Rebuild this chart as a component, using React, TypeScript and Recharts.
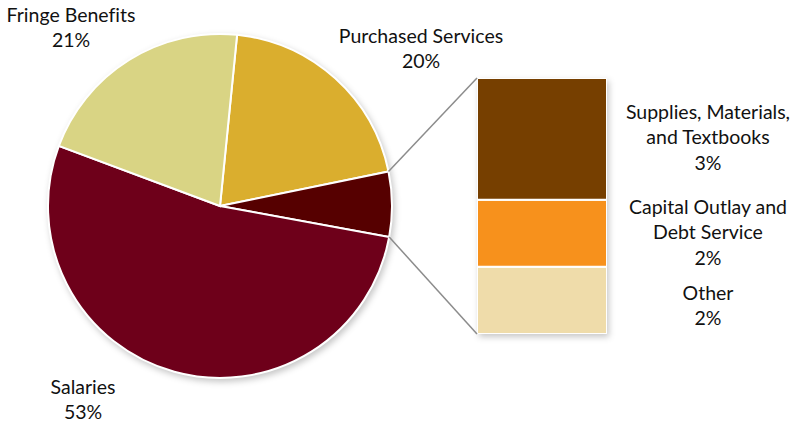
import { PieChart, Pie, Cell, BarChart, Bar, XAxis, YAxis } from "recharts";

// pie slices, clockwise from just right of 12 o'clock
const PIE_NAMES = ["Purchased Services", "Supplies, Capital, Other", "Salaries", "Fringe Benefits"];
const PIE_VALUES = [20.2, 6.1, 52.8, 20.9];
const PIE_COLORS = ["#DAAE2E", "#560000", "#6E001A", "#D9D484"];

// breakout bar, bottom to top
const BAR_KEYS = ["other", "capital", "supplies"];
const BAR_VALUES = [1.6, 1.6, 2.9];
const BAR_COLORS = ["#EFDCAA", "#F7911C", "#763F00"];
const BAR_LABELS = [["Other"], ["Capital Outlay and", "Debt Service"], ["Supplies, Materials,", "and Textbooks"]];

const FONT = "Lato, 'Noto Sans', sans-serif";
const CX = 220;
const CY = 206;
const R = 172;
const START = 84.3;
const BAR = { x: 477, y: 78, w: 130, h: 256 };

const pieData = PIE_NAMES.map((name, i) => ({ name, value: PIE_VALUES[i] }));
const barRow: any = { name: "breakout" };
BAR_KEYS.forEach((k, i) => (barRow[k] = BAR_VALUES[i]));

const pct = (v: number) => Math.round(v) + "%";

function Label({ x, y, lines }: { x: number; y: number; lines: string[] }) {
  return (
    <text x={x} y={y} textAnchor="middle" fontFamily={FONT} fontSize={19.5} fill="#111" style={{ fontFeatureSettings: '"liga" 0' }}>
      {lines.map((l, i) => (
        <tspan key={i} x={x} dy={i === 0 ? 0 : 25.3}>
          {l}
        </tspan>
      ))}
    </text>
  );
}

export default function App() {
  const total = PIE_VALUES.reduce((a, b) => a + b, 0);
  // angles of the breakout slice edges
  const a1 = START - (PIE_VALUES[0] / total) * 360;
  const a2 = a1 - (PIE_VALUES[1] / total) * 360;
  const pt = (deg: number) => {
    const r = (deg * Math.PI) / 180;
    return [CX + R * Math.cos(r), CY - R * Math.sin(r)];
  };
  const [p1x, p1y] = pt(a1);
  const [p2x, p2y] = pt(a2);

  const barTotal = BAR_VALUES.reduce((a, b) => a + b, 0);

  return (
    <div style={{ position: "absolute", left: 0, top: 0, width: 802, height: 425, background: "#fff" }}>
      <div style={{ position: "absolute", left: 0, top: 0, filter: "drop-shadow(2px 3px 3px rgba(0,0,0,0.22))" }}>
        <PieChart width={440} height={425} margin={{ top: 0, right: 0, bottom: 0, left: 0 }}>
          <Pie
            data={pieData}
            dataKey="value"
            cx={CX}
            cy={CY}
            outerRadius={R}
            startAngle={START}
            endAngle={START - 360}
            stroke="#ffffff"
            strokeWidth={2}
            isAnimationActive={false}
          >
            {pieData.map((_, i) => (
              <Cell key={i} fill={PIE_COLORS[i]} />
            ))}
          </Pie>
        </PieChart>
      </div>
      <div
        style={{
          position: "absolute",
          left: BAR.x,
          top: BAR.y,
          filter: "drop-shadow(2px 3px 3px rgba(0,0,0,0.22))",
        }}
      >
        <BarChart width={BAR.w} height={BAR.h} data={[barRow]} margin={{ top: 0, right: 0, bottom: 0, left: 0 }} barCategoryGap={0}>
          <XAxis dataKey="name" hide />
          <YAxis hide domain={[0, barTotal]} />
          {BAR_KEYS.map((k, i) => (
            <Bar key={k} dataKey={k} stackId="s" fill={BAR_COLORS[i]} stroke="#ffffff" strokeWidth={2} isAnimationActive={false} />
          ))}
        </BarChart>
      </div>
      <svg width={802} height={425} style={{ position: "absolute", left: 0, top: 0, pointerEvents: "none" }}>
        <line x1={p1x} y1={p1y} x2={BAR.x} y2={BAR.y} stroke="#8c8c8c" strokeWidth={1.5} />
        <line x1={p2x} y1={p2y} x2={BAR.x} y2={BAR.y + BAR.h} stroke="#8c8c8c" strokeWidth={1.5} />
        <Label x={71} y={22} lines={[PIE_NAMES[3], pct(PIE_VALUES[3])]} />
        <Label x={421} y={43} lines={[PIE_NAMES[0], pct(PIE_VALUES[0])]} />
        <Label x={83} y={394} lines={[PIE_NAMES[2], pct(PIE_VALUES[2])]} />
        <Label x={708} y={119} lines={[...BAR_LABELS[2], pct(BAR_VALUES[2])]} />
        <Label x={708} y={214} lines={[...BAR_LABELS[1], pct(BAR_VALUES[1])]} />
        <Label x={708} y={300} lines={[...BAR_LABELS[0], pct(BAR_VALUES[0])]} />
      </svg>
    </div>
  );
}
